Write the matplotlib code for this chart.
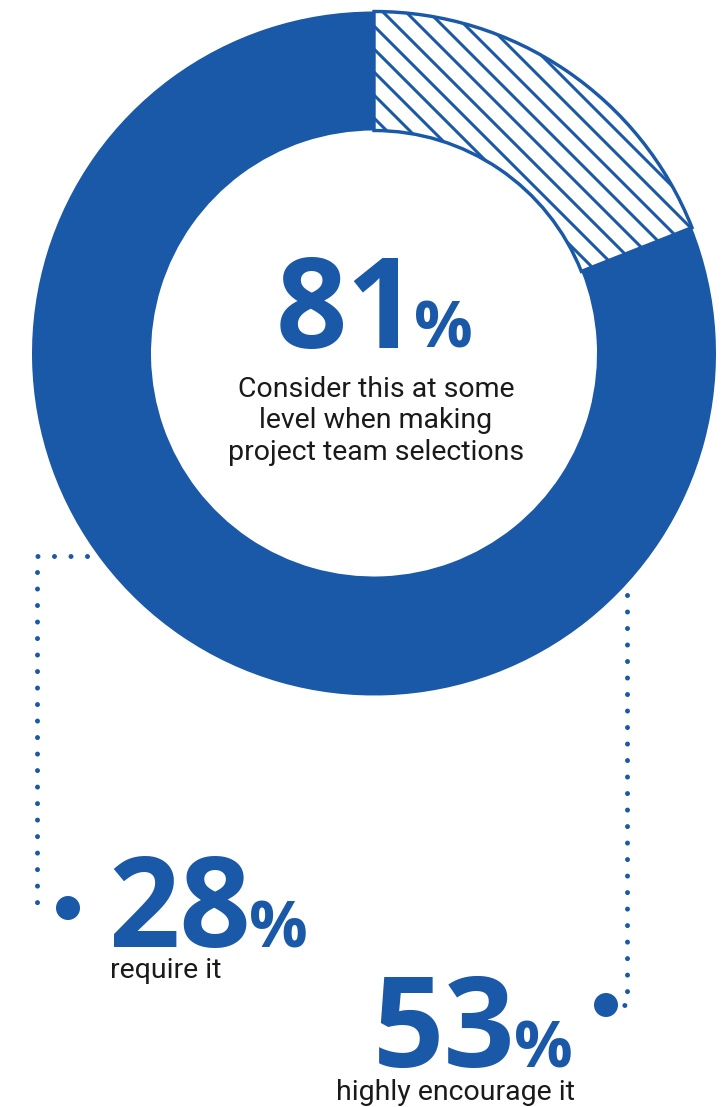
import numpy as np
import matplotlib
matplotlib.use("Agg")
import matplotlib.pyplot as plt
from matplotlib.patches import Circle

# ---- data ----
ring_labels = ["Do not consider", "Consider at some level"]
ring_values = [19, 81]
headline_value = "81"
headline_text = ["Consider this at some", "level when making", "project team selections"]
split_values = ["28", "53"]
split_labels = ["require it", "highly encourage it"]

BLUE = "#1A58A8"
DARK = "#1a1a1a"
NUMFONT = "Open Sans"
BODYFONT = "Roboto"

W, H = 728, 1107
fig = plt.figure(figsize=(W / 100, H / 100), dpi=100)
ax = fig.add_axes([0, 0, 1, 1])

cx, cy, r_out, r_in = 374, 353.5, 342, 223
px = 72 / 100  # points per pixel

wedges, _ = ax.pie(ring_values, colors=["white", BLUE], startangle=-90, counterclock=True,
                   center=(cx, cy), radius=r_out,
                   wedgeprops=dict(width=r_out - r_in, linewidth=0))
hw = wedges[0]
hw.set_edgecolor(BLUE)
hw.set_linewidth(3.4 * px)
hw.set_zorder(1)

# diagonal hatching clipped to the unfilled wedge
step = 23
for b in np.arange(-900, 900, step):
    xs = np.array([cx - 400, cx + 400])
    ln, = ax.plot(xs, xs + b, color=BLUE, lw=3.0 * px, zorder=2, solid_capstyle="butt")
    ln.set_clip_path(hw)

ax.set_xlim(0, W)
ax.set_ylim(H, 0)
ax.set_aspect("auto")
ax.axis("off")

# dotted connectors
dot_ls = (0, (0.001, 3.3))
ax.plot([87, 37, 37, 44], [556, 556, 908, 908], color=BLUE, lw=5 * px, ls=dot_ls,
        dash_capstyle="round", zorder=1)
ax.plot([627, 627, 622], [595, 1005, 1005], color=BLUE, lw=5 * px, ls=dot_ls,
        dash_capstyle="round", zorder=1)
ax.add_patch(Circle((68, 908), 12, color=BLUE, lw=0))
ax.add_patch(Circle((606, 1005), 12, color=BLUE, lw=0))

# center headline
big = 90
pct = 47
body = 20.5
ax.text(347.5, 348, headline_value, color=BLUE, fontsize=big, fontweight="bold",
        family=NUMFONT, ha="center", va="baseline")
ax.text(443, 348, "%", color=BLUE, fontsize=pct, fontweight="bold",
        family=NUMFONT, ha="center", va="baseline")
for i, t in enumerate(headline_text):
    ax.text(376, 397 + i * 31.5, t, color=DARK, fontsize=body, family=BODYFONT,
            ha="center", va="baseline")

# split numbers
ax.text(179.5, 947, split_values[0], color=BLUE, fontsize=big, fontweight="bold",
        family=NUMFONT, ha="center", va="baseline")
ax.text(278, 947, "%", color=BLUE, fontsize=pct, fontweight="bold",
        family=NUMFONT, ha="center", va="baseline")
ax.text(110, 978, split_labels[0], color=DARK, fontsize=body, family=BODYFONT,
        ha="left", va="baseline")

ax.text(444.5, 1067, split_values[1], color=BLUE, fontsize=big, fontweight="bold",
        family=NUMFONT, ha="center", va="baseline")
ax.text(543.5, 1067, "%", color=BLUE, fontsize=pct, fontweight="bold",
        family=NUMFONT, ha="center", va="baseline")
ax.text(336, 1100, split_labels[1], color=DARK, fontsize=body, family=BODYFONT,
        ha="left", va="baseline")

fig.savefig("out.png", dpi=100, facecolor="white")
